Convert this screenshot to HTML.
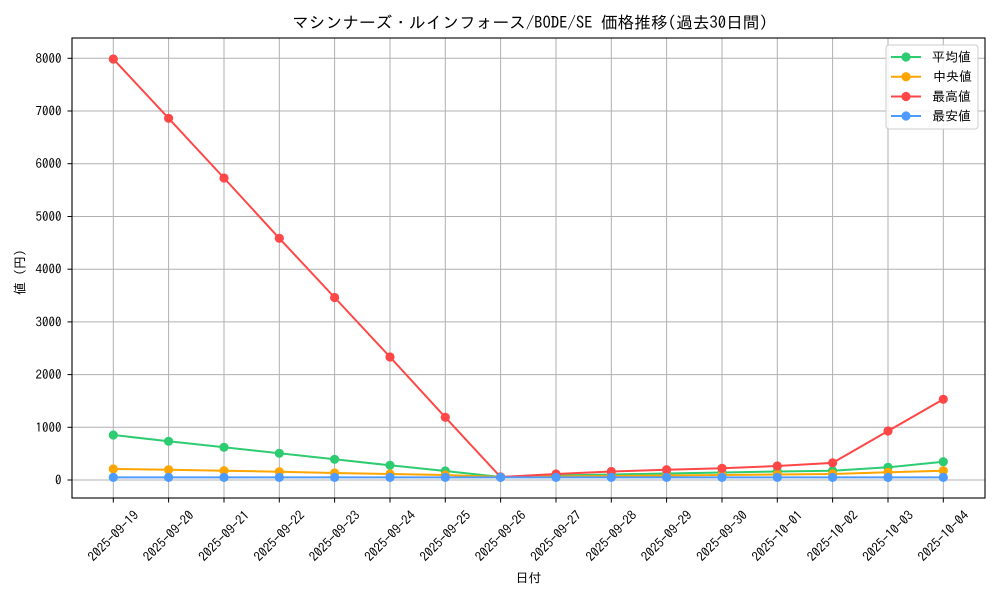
<!DOCTYPE html>
<html><head><meta charset="utf-8"><style>
html,body{margin:0;padding:0;background:#fff;}
svg{display:block;}
text{font-family:"IPAGothic","Liberation Sans","Noto Sans CJK JP",sans-serif;fill:#000;}
</style></head><body>
<svg width="1000" height="600" viewBox="0 0 1000 600" xmlns="http://www.w3.org/2000/svg">
<rect width="1000" height="600" fill="#fff"/>
<text x="530" y="23" font-size="16.7" text-anchor="middle" dominant-baseline="central">マシンナーズ・ルインフォース/BODE/SE 価格推移(過去30日間)</text>
<g stroke="#b0b0b0" stroke-width="1">
<line x1="113.3" y1="38" x2="113.3" y2="498"/>
<line x1="168.6" y1="38" x2="168.6" y2="498"/>
<line x1="224" y1="38" x2="224" y2="498"/>
<line x1="279.3" y1="38" x2="279.3" y2="498"/>
<line x1="334.6" y1="38" x2="334.6" y2="498"/>
<line x1="390" y1="38" x2="390" y2="498"/>
<line x1="445.3" y1="38" x2="445.3" y2="498"/>
<line x1="500.6" y1="38" x2="500.6" y2="498"/>
<line x1="556" y1="38" x2="556" y2="498"/>
<line x1="611.3" y1="38" x2="611.3" y2="498"/>
<line x1="666.6" y1="38" x2="666.6" y2="498"/>
<line x1="722" y1="38" x2="722" y2="498"/>
<line x1="777.3" y1="38" x2="777.3" y2="498"/>
<line x1="832.6" y1="38" x2="832.6" y2="498"/>
<line x1="888" y1="38" x2="888" y2="498"/>
<line x1="943.3" y1="38" x2="943.3" y2="498"/>
<line x1="72" y1="480" x2="985" y2="480"/>
<line x1="72" y1="427.3" x2="985" y2="427.3"/>
<line x1="72" y1="374.6" x2="985" y2="374.6"/>
<line x1="72" y1="321.9" x2="985" y2="321.9"/>
<line x1="72" y1="269.2" x2="985" y2="269.2"/>
<line x1="72" y1="216.5" x2="985" y2="216.5"/>
<line x1="72" y1="163.7" x2="985" y2="163.7"/>
<line x1="72" y1="111" x2="985" y2="111"/>
<line x1="72" y1="58.3" x2="985" y2="58.3"/>
</g>
<g stroke="#000" stroke-width="1">
<line x1="67.5" y1="480" x2="72" y2="480"/>
<line x1="67.5" y1="427.3" x2="72" y2="427.3"/>
<line x1="67.5" y1="374.6" x2="72" y2="374.6"/>
<line x1="67.5" y1="321.9" x2="72" y2="321.9"/>
<line x1="67.5" y1="269.2" x2="72" y2="269.2"/>
<line x1="67.5" y1="216.5" x2="72" y2="216.5"/>
<line x1="67.5" y1="163.7" x2="72" y2="163.7"/>
<line x1="67.5" y1="111" x2="72" y2="111"/>
<line x1="67.5" y1="58.3" x2="72" y2="58.3"/>
<line x1="113.3" y1="498" x2="113.3" y2="502.5"/>
<line x1="168.6" y1="498" x2="168.6" y2="502.5"/>
<line x1="224" y1="498" x2="224" y2="502.5"/>
<line x1="279.3" y1="498" x2="279.3" y2="502.5"/>
<line x1="334.6" y1="498" x2="334.6" y2="502.5"/>
<line x1="390" y1="498" x2="390" y2="502.5"/>
<line x1="445.3" y1="498" x2="445.3" y2="502.5"/>
<line x1="500.6" y1="498" x2="500.6" y2="502.5"/>
<line x1="556" y1="498" x2="556" y2="502.5"/>
<line x1="611.3" y1="498" x2="611.3" y2="502.5"/>
<line x1="666.6" y1="498" x2="666.6" y2="502.5"/>
<line x1="722" y1="498" x2="722" y2="502.5"/>
<line x1="777.3" y1="498" x2="777.3" y2="502.5"/>
<line x1="832.6" y1="498" x2="832.6" y2="502.5"/>
<line x1="888" y1="498" x2="888" y2="502.5"/>
<line x1="943.3" y1="498" x2="943.3" y2="502.5"/>
</g>
<g font-size="13" text-anchor="end" dominant-baseline="central">
<text x="61.5" y="480">0</text>
<text x="61.5" y="427.3">1000</text>
<text x="61.5" y="374.6">2000</text>
<text x="61.5" y="321.9">3000</text>
<text x="61.5" y="269.2">4000</text>
<text x="61.5" y="216.5">5000</text>
<text x="61.5" y="163.7">6000</text>
<text x="61.5" y="111">7000</text>
<text x="61.5" y="58.3">8000</text>
</g>
<g font-size="13" text-anchor="middle" dominant-baseline="central">
<text x="113.3" y="536" transform="rotate(-45 113.3 536)">2025-09-19</text>
<text x="168.6" y="536" transform="rotate(-45 168.6 536)">2025-09-20</text>
<text x="224" y="536" transform="rotate(-45 224 536)">2025-09-21</text>
<text x="279.3" y="536" transform="rotate(-45 279.3 536)">2025-09-22</text>
<text x="334.6" y="536" transform="rotate(-45 334.6 536)">2025-09-23</text>
<text x="390" y="536" transform="rotate(-45 390 536)">2025-09-24</text>
<text x="445.3" y="536" transform="rotate(-45 445.3 536)">2025-09-25</text>
<text x="500.6" y="536" transform="rotate(-45 500.6 536)">2025-09-26</text>
<text x="556" y="536" transform="rotate(-45 556 536)">2025-09-27</text>
<text x="611.3" y="536" transform="rotate(-45 611.3 536)">2025-09-28</text>
<text x="666.6" y="536" transform="rotate(-45 666.6 536)">2025-09-29</text>
<text x="722" y="536" transform="rotate(-45 722 536)">2025-09-30</text>
<text x="777.3" y="536" transform="rotate(-45 777.3 536)">2025-10-01</text>
<text x="832.6" y="536" transform="rotate(-45 832.6 536)">2025-10-02</text>
<text x="888" y="536" transform="rotate(-45 888 536)">2025-10-03</text>
<text x="943.3" y="536" transform="rotate(-45 943.3 536)">2025-10-04</text>
<text x="528.5" y="578">日付</text>
<text x="20" y="269" transform="rotate(-90 20 269)">値（円）</text>
</g>
<!-- mean -->
<g stroke="#2ecc71" fill="#2ecc71">
<polyline fill="none" stroke-width="2" points="113.3,435 168.6,441.3 224,447.3 279.3,453.3 334.6,459.3 390,465.3 445.3,471 500.6,477 556,475.5 611.3,474.5 666.6,473.5 722,472.5 777.3,471.5 832.6,470.7 888,467.3 943.3,461.7"/>
<g stroke="none">
<circle cx="113.3" cy="435" r="4.6"/><circle cx="168.6" cy="441.3" r="4.6"/><circle cx="224" cy="447.3" r="4.6"/><circle cx="279.3" cy="453.3" r="4.6"/><circle cx="334.6" cy="459.3" r="4.6"/><circle cx="390" cy="465.3" r="4.6"/><circle cx="445.3" cy="471" r="4.6"/><circle cx="500.6" cy="477" r="4.6"/><circle cx="556" cy="475.5" r="4.6"/><circle cx="611.3" cy="474.5" r="4.6"/><circle cx="666.6" cy="473.5" r="4.6"/><circle cx="722" cy="472.5" r="4.6"/><circle cx="777.3" cy="471.5" r="4.6"/><circle cx="832.6" cy="470.7" r="4.6"/><circle cx="888" cy="467.3" r="4.6"/><circle cx="943.3" cy="461.7" r="4.6"/>
</g></g>
<!-- median -->
<g stroke="#ffa500" fill="#ffa500">
<polyline fill="none" stroke-width="2" points="113.3,469 168.6,469.7 224,470.7 279.3,471.7 334.6,473 390,474 445.3,475 500.6,477 556,476.5 611.3,476 666.6,475.5 722,475 777.3,474.5 832.6,474 888,472.3 943.3,470.7"/>
<g stroke="none">
<circle cx="113.3" cy="469" r="4.6"/><circle cx="168.6" cy="469.7" r="4.6"/><circle cx="224" cy="470.7" r="4.6"/><circle cx="279.3" cy="471.7" r="4.6"/><circle cx="334.6" cy="473" r="4.6"/><circle cx="390" cy="474" r="4.6"/><circle cx="445.3" cy="475" r="4.6"/><circle cx="500.6" cy="477" r="4.6"/><circle cx="556" cy="476.5" r="4.6"/><circle cx="611.3" cy="476" r="4.6"/><circle cx="666.6" cy="475.5" r="4.6"/><circle cx="722" cy="475" r="4.6"/><circle cx="777.3" cy="474.5" r="4.6"/><circle cx="832.6" cy="474" r="4.6"/><circle cx="888" cy="472.3" r="4.6"/><circle cx="943.3" cy="470.7" r="4.6"/>
</g></g>
<!-- max -->
<g stroke="#ff4747" fill="#ff4747">
<polyline fill="none" stroke-width="2" points="113.3,59 168.6,118.3 224,178 279.3,238.3 334.6,297.5 390,357 445.3,417.3 500.6,477 556,474 611.3,471.5 666.6,469.7 722,468.3 777.3,466 832.6,462.9 888,431 943.3,399.3"/>
<g stroke="none">
<circle cx="113.3" cy="59" r="4.6"/><circle cx="168.6" cy="118.3" r="4.6"/><circle cx="224" cy="178" r="4.6"/><circle cx="279.3" cy="238.3" r="4.6"/><circle cx="334.6" cy="297.5" r="4.6"/><circle cx="390" cy="357" r="4.6"/><circle cx="445.3" cy="417.3" r="4.6"/><circle cx="500.6" cy="477" r="4.6"/><circle cx="556" cy="474" r="4.6"/><circle cx="611.3" cy="471.5" r="4.6"/><circle cx="666.6" cy="469.7" r="4.6"/><circle cx="722" cy="468.3" r="4.6"/><circle cx="777.3" cy="466" r="4.6"/><circle cx="832.6" cy="462.9" r="4.6"/><circle cx="888" cy="431" r="4.6"/><circle cx="943.3" cy="399.3" r="4.6"/>
</g></g>
<!-- min -->
<g stroke="#4d9bff" fill="#4d9bff">
<polyline fill="none" stroke-width="2" points="113.3,477.4 168.6,477.4 224,477.4 279.3,477.4 334.6,477.4 390,477.4 445.3,477.4 500.6,477.4 556,477.4 611.3,477.4 666.6,477.4 722,477.4 777.3,477.4 832.6,477.4 888,477.4 943.3,477.4"/>
<g stroke="none">
<circle cx="113.3" cy="477.4" r="4.6"/><circle cx="168.6" cy="477.4" r="4.6"/><circle cx="224" cy="477.4" r="4.6"/><circle cx="279.3" cy="477.4" r="4.6"/><circle cx="334.6" cy="477.4" r="4.6"/><circle cx="390" cy="477.4" r="4.6"/><circle cx="445.3" cy="477.4" r="4.6"/><circle cx="500.6" cy="477.4" r="4.6"/><circle cx="556" cy="477.4" r="4.6"/><circle cx="611.3" cy="477.4" r="4.6"/><circle cx="666.6" cy="477.4" r="4.6"/><circle cx="722" cy="477.4" r="4.6"/><circle cx="777.3" cy="477.4" r="4.6"/><circle cx="832.6" cy="477.4" r="4.6"/><circle cx="888" cy="477.4" r="4.6"/><circle cx="943.3" cy="477.4" r="4.6"/>
</g></g>
<rect x="72" y="38" width="913" height="460" fill="none" stroke="#000" stroke-width="1.1"/>
<!-- legend -->
<rect x="886" y="45" width="92" height="84" rx="3" fill="#fff" fill-opacity="0.85" stroke="#cccccc" stroke-width="1"/>
<g stroke-width="2">
<line x1="891" y1="57" x2="921" y2="57" stroke="#2ecc71"/><circle cx="906" cy="57" r="4.6" fill="#2ecc71"/>
<line x1="891" y1="76.7" x2="921" y2="76.7" stroke="#ffa500"/><circle cx="906" cy="76.7" r="4.6" fill="#ffa500"/>
<line x1="891" y1="96.5" x2="921" y2="96.5" stroke="#ff4747"/><circle cx="906" cy="96.5" r="4.6" fill="#ff4747"/>
<line x1="891" y1="116" x2="921" y2="116" stroke="#4d9bff"/><circle cx="906" cy="116" r="4.6" fill="#4d9bff"/>
</g>
<g font-size="13" dominant-baseline="central">
<text x="932" y="57">平均値</text>
<text x="933" y="76.7">中央値</text>
<text x="932" y="96.5">最高値</text>
<text x="932" y="116">最安値</text>
</g>
</svg>
</body></html>
